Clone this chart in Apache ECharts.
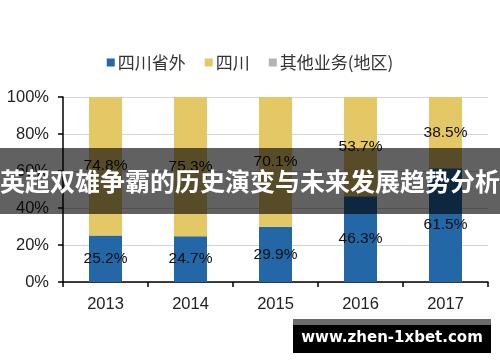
<!DOCTYPE html>
<html>
<head>
<meta charset="utf-8">
<script src="https://cdn.jsdelivr.net/npm/echarts@6/dist/echarts.min.js"></script>
<style>html,body{margin:0;padding:0;background:#fff;}#c{width:500px;height:362px;}</style>
</head>
<body>
<div id="c"></div>
<script>
const categories = ['2013', '2014', '2015', '2016', '2017'];
const outsideSichuan = [25.2, 24.7, 29.9, 46.3, 61.5];
const sichuan = [74.8, 75.3, 70.1, 53.7, 38.5];
const otherRegion = [0, 0, 0, 0, 0];
const seriesNames = ['四川省外', '四川', '其他业务(地区)'];
const yTicks = [0, 20, 40, 60, 80, 100];
const bannerText = '英超双雄争霸的历史演变与未来发展趋势分析';
const watermarkText = 'www.zhen-1xbet.com';

const chart = echarts.init(document.getElementById('c'), null, {renderer: 'canvas'});
const labelStyle = {
  show: true, position: 'inside', color: '#111', fontSize: 15.5,
  fontFamily: 'Liberation Sans, Arial, sans-serif',
  formatter: p => p.value.toFixed(1) + '%'
};
chart.setOption({
  animation: false,
  backgroundColor: '#fff',
  legend: {
    top: 49, left: 'center',
    itemWidth: 8, itemHeight: 8, itemGap: 19,
    icon: 'rect',
    textStyle: {fontSize: 17, color: '#333', fontFamily: 'Noto Sans CJK SC, sans-serif', padding: [0, 0, 0, -2]},
    data: seriesNames
  },
  grid: {left: 63, right: 12, top: 97, bottom: 80},
  xAxis: {
    type: 'category', data: categories, boundaryGap: true,
    axisLine: {lineStyle: {color: '#000', width: 1.5}},
    axisTick: {show: true, length: 5, lineStyle: {color: '#000', width: 1.5}},
    axisLabel: {color: '#222', fontSize: 16.5, margin: 14, fontFamily: 'Liberation Sans, Arial, sans-serif'}
  },
  yAxis: {
    type: 'value', min: yTicks[0], max: yTicks[yTicks.length - 1], interval: 20,
    axisLine: {show: true, lineStyle: {color: '#000', width: 1.5}},
    axisTick: {show: true, length: 5, lineStyle: {color: '#000', width: 1.5}},
    splitLine: {lineStyle: {color: '#d4d4d4', width: 1}},
    axisLabel: {color: '#222', fontSize: 16.5, margin: 14, formatter: '{value}%', fontFamily: 'Liberation Sans, Arial, sans-serif'}
  },
  series: [
    {name: seriesNames[0], type: 'bar', stack: 's', barWidth: 33, data: outsideSichuan,
     itemStyle: {color: '#2367a6'}, label: labelStyle},
    {name: seriesNames[1], type: 'bar', stack: 's', barWidth: 33, data: sichuan,
     itemStyle: {color: '#e5c866'}, label: labelStyle},
    {name: seriesNames[2], type: 'bar', stack: 's', barWidth: 33, data: otherRegion,
     itemStyle: {color: '#b4b4b4'}, label: {show: false}}
  ],
  graphic: [
    {type: 'rect', z: 100, shape: {x: 0, y: 148, width: 500, height: 66},
     style: {fill: 'rgba(0,0,0,0.62)'}},
    {type: 'text', z: 101, x: 250, y: 181,
     style: {text: bannerText, fill: '#fff', fontSize: 25, fontWeight: 'bold',
             fontFamily: 'Noto Sans CJK SC, sans-serif', align: 'center', verticalAlign: 'middle'}},
    {type: 'rect', z: 100, shape: {x: 293, y: 319, width: 198, height: 6},
     style: {fill: '#6b6b6b'}},
    {type: 'rect', z: 100, shape: {x: 293, y: 325, width: 198, height: 28},
     style: {fill: '#000'}},
    {type: 'text', z: 101, x: 392, y: 338,
     style: {text: watermarkText, fill: '#fff', fontSize: 15, fontWeight: 'bold',
             fontFamily: 'DejaVu Sans, Verdana, sans-serif', align: 'center', verticalAlign: 'middle'}}
  ]
});
</script>
</body>
</html>
